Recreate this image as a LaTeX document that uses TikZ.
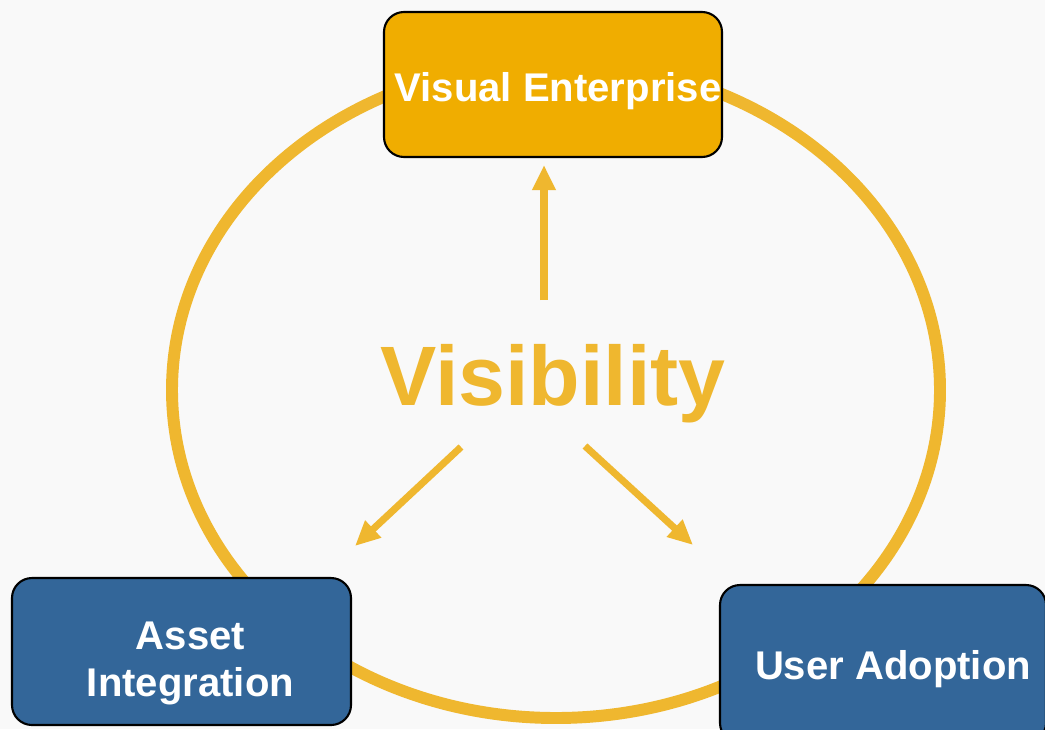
\documentclass[tikz,border=0pt]{standalone}
\usepackage{fontspec}
\setmainfont{Liberation Sans}
\usetikzlibrary{arrows.meta}
\definecolor{gold}{HTML}{EFB72F}
\definecolor{amber}{HTML}{F0AD00}
\definecolor{steel}{HTML}{336699}
\definecolor{paper}{HTML}{F9F9F9}
\tikzset{
  box/.style={draw=black, line width=0.6pt, rounded corners=0.2cm, inner sep=0pt},
  boxtext/.style={text=white, align=center, inner sep=0pt, font=\fontsize{11.4}{13.4}\selectfont\bfseries},
  arr/.style={-{Triangle[length=0.25cm,width=0.22cm]}, line width=2pt, gold},
}
\begin{document}
\begin{tikzpicture}
  % Background
  \fill[paper] (0,0) rectangle (10.45,7.29);
  \useasboundingbox (0,0) rectangle (10.45,7.29);

  % Cycle
  \draw[gold, line width=3.4pt] (5.56,3.39) ellipse (3.84 and 3.28);

  % Boxes
  \node[box, fill=amber, minimum width=3.38cm, minimum height=1.45cm,
    label={[boxtext, xshift=0.05cm, yshift=-0.07cm]center:Visual Enterprise}] (ve) at (5.53,6.445) {};
  \node[box, fill=steel, minimum width=3.39cm, minimum height=1.47cm,
    label={[boxtext, xshift=0.09cm, yshift=-0.12cm]center:Asset\\Integration}] (ai) at (1.815,0.775) {};
  \node[box, fill=steel, minimum width=3.26cm, minimum height=1.58cm,
    label={[boxtext, xshift=0.10cm, yshift=-0.05cm]center:User Adoption}] (ua) at (8.83,0.65) {};

  % Centre word
  \node[gold, anchor=base, inner sep=0pt, font=\fontsize{24}{27}\selectfont\bfseries] (vis) at (5.53,3.24) {Visibility};

  % Arrows
  \coordinate (uptail) at (5.44,4.29);
  \coordinate (uptip) at (5.44,5.64);
  \coordinate (lefttail) at (4.61,2.82);
  \coordinate (lefttip) at (3.55,1.83);
  \coordinate (righttail) at (5.85,2.83);
  \coordinate (righttip) at (6.93,1.84);
  \draw[arr] (uptail) -- (uptip);
  \draw[arr] (lefttail) -- (lefttip);
  \draw[arr] (righttail) -- (righttip);
\end{tikzpicture}
\end{document}
